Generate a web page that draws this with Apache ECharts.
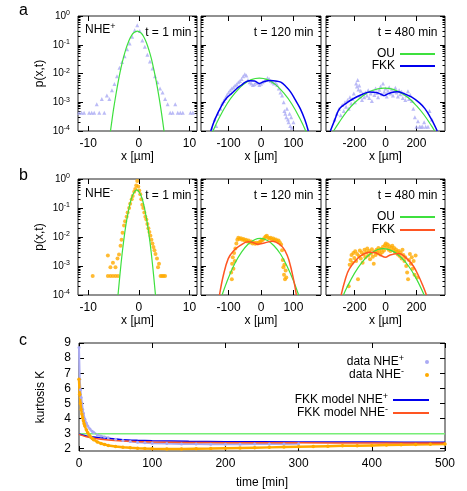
<!DOCTYPE html>
<html>
<head>
<meta charset="utf-8">
<script src="https://cdn.jsdelivr.net/npm/echarts@6/dist/echarts.min.js"></script>
<style>
  html, body { margin: 0; padding: 0; background: #fff; }
  #chart { width: 467px; height: 491px; }
</style>
</head>
<body>
<div id="chart"></div>
<script>
// ---- tick labels ----
const logTicks = [1e-4, 1e-3, 1e-2, 1e-1, 1];
const xTicksT1 = [-10, 0, 10];
const xTicksT120 = [-100, 0, 100];
const xTicksT480 = [-200, 0, 200];
const timeTicks = [0, 100, 200, 300, 400, 500];
const kurtTicks = [2, 3, 4, 5, 6, 7, 8, 9];

// ---- panel a: NHE+ ----
const plusT1 = [[-11.8,4.3e-4],[-11.3,4.3e-4],[-10.8,4.3e-4],[-9.8,4.3e-4],[-9.3,4.3e-4],[-8.8,4.3e-4],
  [-8.3,8.6e-4],[-7.8,4.3e-4],[-7.3,1.3e-3],[-6.8,4.3e-4],[-6.3,1.7e-3],[-5.8,1.3e-3],[-5.3,2.6e-3],
  [-4.8,4.3e-3],[-4.3,8e-3],[-3.8,0.016],[-3.3,0.025],[-2.8,0.04],[-2.3,0.07],[-1.8,0.11],[-1.3,0.19],
  [-0.8,0.32],[-0.3,0.48],[0.2,0.3],[0.7,0.14],[1.2,0.085],[1.7,0.045],[2.2,0.026],[2.7,0.015],
  [3.2,8e-3],[3.7,5e-3],[4.2,3e-3],[4.7,2.2e-3],[5.2,1.3e-3],[5.7,8.6e-4],[6.2,4.3e-4],[6.7,4.3e-4],
  [7.2,8.6e-4],[7.7,4.3e-4],[8.2,4.3e-4],[8.7,4.3e-4],[10.2,4.3e-4],[10.7,4.3e-4]];
const ouPlusT1 = [[-5.6,9.5e-5],[-5.3,2.3e-4],[-5,5.4e-4],[-4.5,1.9e-3],[-4,5.9e-3],[-3.5,0.016],[-3,0.037],
  [-2.5,0.075],[-2,0.13],[-1.5,0.2],[-1,0.26],[-0.3,0.3],[0.5,0.25],[1,0.186],[1.5,0.12],[2,0.066],
  [2.5,0.032],[3,0.013],[3.5,4.8e-3],[4,1.5e-3],[4.5,4.1e-4],[5,9.5e-5]];

const plusT120 = [[-150,1.2e-4],[-143,2.5e-4],[-138,1.5e-4],[-132,4e-4],[-125,6e-4],[-120,9e-4],[-115,1.1e-3],
  [-110,1.4e-3],[-105,1.8e-3],[-100,2.2e-3],[-95,2.6e-3],[-90,3e-3],[-85,3.3e-3],[-80,3.8e-3],[-75,4.2e-3],
  [-70,5e-3],[-65,5.5e-3],[-60,6.5e-3],[-55,8e-3],[-50,9.5e-3],[-45,8.5e-3],[-40,6e-3],[-35,5e-3],
  [-30,4.5e-3],[-25,4e-3],[-20,4.2e-3],[-15,5e-3],[-10,4.6e-3],[-5,4e-3],[0,4.4e-3],[5,5e-3],[10,5.5e-3],
  [15,6e-3],[20,7e-3],[25,6.5e-3],[30,5.5e-3],[35,5e-3],[40,4.5e-3],[45,4.8e-3],[50,4e-3],[55,3e-3],
  [60,2.2e-3],[65,1.7e-3],[70,1e-3],[72,5e-4],[75,4e-4],[78,3e-4],[80,6e-4],[83,2.5e-4],[85,2e-4],
  [88,4e-4],[90,1.5e-4],[93,3e-4],[95,1.3e-4],[100,2e-4]];
const ouPlusT120 = [[-150,8.9e-5],[-130,2.7e-4],[-105,8.7e-4],[-80,2.1e-3],[-55,4.1e-3],[-30,6.1e-3],[-5,6.9e-3],
  [20,6.1e-3],[45,4.1e-3],[70,2.1e-3],[95,8.7e-4],[120,2.7e-4],[140,8.9e-5]];
const fkkPlusT120 = [[-155,1e-4],[-141,2.7e-4],[-121,7.8e-4],[-106,1.4e-3],[-91,2e-3],[-76,2.9e-3],[-61,3.9e-3],
  [-48,5e-3],[-35,5.6e-3],[-20,5.5e-3],[-5,4.5e-3],[10,5.3e-3],[30,5.7e-3],[45,5.5e-3],[61,5e-3],
  [76,3.6e-3],[91,2.3e-3],[106,1.2e-3],[121,6e-4],[135,2.5e-4],[146,1e-4]];

const plusT480 = [[-330,2.5e-4],[-315,4e-4],[-300,6e-4],[-290,3.5e-4],[-280,8e-4],[-270,5e-4],[-262,1e-3],
  [-255,7e-4],[-245,1.2e-3],[-238,6e-4],[-230,1.5e-3],[-222,9e-4],[-215,1.3e-3],[-205,2e-3],[-198,1e-3],
  [-190,4.5e-3],[-185,3.5e-3],[-180,6e-3],[-175,2.8e-3],[-170,3.8e-3],[-165,1.6e-3],[-160,2.5e-3],
  [-152,1.2e-3],[-145,2e-3],[-138,1.5e-3],[-130,2.2e-3],[-120,1.7e-3],[-112,2.6e-3],[-105,1.4e-3],
  [-96,2e-3],[-88,1.1e-3],[-80,2.4e-3],[-72,1.8e-3],[-64,3e-3],[-56,2.1e-3],[-48,1.5e-3],[-40,2.7e-3],
  [-32,3.5e-3],[-24,1.9e-3],[-16,4.5e-3],[-8,2.3e-3],[0,3e-3],[8,1.6e-3],[16,2.5e-3],[24,3.3e-3],
  [32,2e-3],[40,2.8e-3],[48,1.7e-3],[56,2.4e-3],[64,3.2e-3],[72,2.2e-3],[80,1.6e-3],[88,2.6e-3],
  [96,1.9e-3],[104,2.3e-3],[112,1.4e-3],[120,2e-3],[128,1.2e-3],[136,1.7e-3],[145,2.4e-3],[152,1.3e-3],
  [160,1.8e-3],[170,1.1e-3],[180,6e-4],[190,3e-4],[200,1.4e-4],[210,2.2e-4],[220,1.4e-4],[230,1.4e-4],
  [240,1.4e-4],[250,2e-4],[260,1.4e-4],[275,1.4e-4],[285,5e-4],[300,2.5e-4]];
const ouPlusT480 = [[-336,1e-4],[-300,2e-4],[-250,4.8e-4],[-200,9.6e-4],[-150,1.6e-3],[-100,2.4e-3],[-50,2.9e-3],
  [-9,3.1e-3],[50,2.8e-3],[100,2.1e-3],[150,1.4e-3],[200,7.6e-4],[250,3.6e-4],[300,1.45e-4],[318,1e-4]];
const fkkPlusT480 = [[-357,1e-4],[-330,2.3e-4],[-297,6e-4],[-250,9.5e-4],[-212,1.3e-3],[-149,1.9e-3],[-100,2.25e-3],
  [-60,2.2e-3],[-20,1.8e-3],[-9,1.7e-3],[10,1.9e-3],[40,2.2e-3],[74,2.3e-3],[120,2e-3],[170,1.5e-3],
  [220,9.5e-4],[255,6e-4],[290,3e-4],[308,2e-4],[335,1e-4]];

// ---- panel b: NHE- ----
const minusT1 = [[-9.1,4.5e-4],[-6.1,4.5e-4],[-6.1,2.3e-3],[-5.6,4.5e-4],[-5.6,9e-4],[-5.1,4.5e-4],[-5.1,1.3e-3],
  [-4.6,4.5e-4],[-4.6,9e-4],[-4.2,1.8e-3],[-4.1,4.5e-4],[-3.9,2.5e-3],[-3.6,5e-3],[-3.4,8e-3],[-3.2,0.014],
  [-2.9,0.025],[-2.7,0.035],[-2.4,0.05],[-2.2,0.07],[-1.9,0.1],[-1.7,0.14],[-1.4,0.2],[-1.2,0.26],
  [-0.9,0.36],[-0.7,0.45],[-0.5,0.6],[-0.3,0.85],[-0.1,0.55],[0.1,0.4],[0.3,0.3],[0.5,0.2],[0.7,0.13],
  [0.9,0.1],[1.1,0.07],[1.3,0.05],[1.5,0.04],[1.7,0.028],[1.9,0.02],[2.1,0.015],[2.3,0.011],[2.5,8e-3],
  [2.7,6e-3],[2.9,4.5e-3],[3.1,3.5e-3],[3.3,2.6e-3],[3.6,1.8e-3],[3.8,9e-4],[4.0,1.2e-3],[4.3,4.5e-4],
  [4.6,4.5e-4],[4.9,4.5e-4],[5.2,4.5e-4]];
const ouMinusT1 = [[-4.1,1e-4],[-3.5,1.2e-3],[-3,6.9e-3],[-2.5,0.029],[-2,0.087],[-1.5,0.2],[-1,0.33],[-0.4,0.42],
  [0.2,0.33],[0.7,0.2],[1.2,0.087],[1.7,0.029],[2.2,6.9e-3],[2.7,1.2e-3],[3.3,1e-4]];

const minusT120 = [[-92,6e-4],[-90,3.5e-4],[-89,1.2e-3],[-87,2e-3],[-85,8e-4],[-83,2.8e-3],[-81,1.5e-3],[-79,4e-3],
  [-76,6e-3],[-73,8e-3],[-70,9.5e-3],[-66,8.5e-3],[-62,9e-3],[-58,8e-3],[-54,8.5e-3],[-50,7.5e-3],[-46,8e-3],
  [-42,7e-3],[-38,7.5e-3],[-34,6.5e-3],[-30,7e-3],[-26,6e-3],[-22,6.5e-3],[-18,5.8e-3],[-14,6.3e-3],
  [-10,6e-3],[-6,6.5e-3],[-2,7e-3],[2,7.5e-3],[6,8e-3],[10,9e-3],[14,1.05e-2],[18,1.1e-2],[22,9.5e-3],
  [26,8.8e-3],[30,9.5e-3],[34,8.2e-3],[38,8.8e-3],[42,7.8e-3],[46,8.2e-3],[50,7.2e-3],[54,7.6e-3],
  [58,6.5e-3],[62,5.5e-3],[65,3.5e-3],[67,1.6e-3],[69,9e-4],[71,5e-4],[72,1.1e-3],[74,3.5e-4],[76,7e-4],[78,4e-4]];
const ouMinusT120 = [[-120,1e-4],[-100,4e-4],[-80,1.26e-3],[-60,3e-3],[-40,5.6e-3],[-20,8e-3],[-2,8.9e-3],
  [20,7.6e-3],[40,5e-3],[60,2.6e-3],[80,1e-3],[100,3.1e-4],[116,1e-4]];
const fkkMinusT120 = [[-128,1e-4],[-116,4.8e-4],[-101,1.8e-3],[-85,3.3e-3],[-65,5e-3],[-40,6.8e-3],[-25,6.5e-3],
  [-10,5.6e-3],[10,6.2e-3],[35,7.2e-3],[61,5.2e-3],[75,3.2e-3],[86,1.6e-3],[101,3.2e-4],[109,1e-4]];

const minusT480 = [[-238,2e-4],[-232,1.1e-3],[-226,1.6e-3],[-220,2.4e-3],[-214,1.3e-3],[-208,2.8e-3],[-202,1.9e-3],
  [-196,3.2e-3],[-190,1.5e-3],[-184,2.6e-3],[-178,3.5e-4],[-172,2.2e-3],[-166,3.4e-3],[-160,1.8e-3],
  [-154,2.9e-3],[-148,1.3e-3],[-142,2.5e-3],[-136,3.6e-3],[-130,2e-3],[-124,3e-3],[-118,4e-3],[-112,2.3e-3],
  [-106,3.3e-3],[-100,1.7e-3],[-94,2.7e-3],[-88,3.8e-3],[-82,2.1e-3],[-76,1.2e-3],[-70,3.1e-3],[-64,2.4e-3],
  [-58,3.6e-3],[-52,2.8e-3],[-46,4.2e-3],[-40,3.2e-3],[-34,2.5e-3],[-28,3.9e-3],[-22,3e-3],[-16,4.6e-3],
  [-10,3.4e-3],[-4,5.2e-3],[2,6e-3],[8,4.4e-3],[14,5.5e-3],[20,3.6e-3],[26,4.8e-3],[32,3.3e-3],[38,4.3e-3],
  [44,5e-3],[50,3.5e-3],[56,4.2e-3],[62,2.9e-3],[68,3.7e-3],[74,3.1e-3],[80,2.5e-3],[86,3.3e-3],[92,2.2e-3],
  [98,2.9e-3],[104,1.8e-3],[110,3.6e-3],[116,2.4e-3],[122,1.5e-3],[128,2e-3],[134,1e-3],[140,6e-4],
  [146,3.5e-4],[152,1.6e-3],[158,2.6e-3],[164,1.2e-3],[170,2e-3],[176,8e-4],[182,1.5e-3],[188,5e-4],
  [195,2.3e-3],[205,4e-4]];
const ouMinusT480 = [[-272,1e-4],[-250,1.8e-4],[-200,5.7e-4],[-150,1.4e-3],[-100,2.6e-3],[-50,3.7e-3],[-11,4e-3],
  [50,3.2e-3],[100,2e-3],[150,9.8e-4],[200,3.6e-4],[250,1e-4]];
const fkkMinusT480 = [[-287,1e-4],[-260,3.5e-4],[-234,8e-4],[-181,1.8e-3],[-140,2.6e-3],[-106,3e-3],[-70,2.9e-3],
  [-30,2.3e-3],[0,2e-3],[30,2.4e-3],[85,2.7e-3],[148,1.6e-3],[180,1e-3],[212,4.8e-4],[240,2.2e-4],[265,1e-4]];

// ---- panel c: kurtosis vs time ----
const kurtPlusData = [[0,8.7],[1,6.6],[2,5.9],[3,5.4],[4,5.0],[5,4.6],[6,4.35],[8,3.95],[10,3.7],[12,3.5],
  [15,3.3],[18,3.15],[20,3.07],[25,2.93],[30,2.85],[35,2.78],[40,2.72],[50,2.62],[60,2.54],[70,2.48],
  [80,2.43],[90,2.4],[100,2.37],[120,2.34],[140,2.32],[160,2.31],[180,2.3],[200,2.3],[220,2.3],[240,2.31],
  [260,2.31],[280,2.32],[300,2.33]];
const kurtMinusData = [[0,6.6],[1,5.6],[2,5.0],[3,4.6],[4,4.3],[5,4.05],[6,3.85],[7,3.65],[8,3.5],[10,3.25],
  [12,3.05],[14,2.9],[16,2.78],[18,2.68],[20,2.6],[25,2.45],[30,2.35],[35,2.28],[40,2.22],[50,2.15],
  [60,2.1],[70,2.06],[80,2.03],[90,2.01],[100,2.0],[120,1.99],[140,1.99],[160,2.0],[180,2.01],[200,2.03],
  [220,2.05],[240,2.07],[260,2.09],[280,2.11],[300,2.13],[320,2.15],[340,2.17],[360,2.19],[380,2.2],
  [400,2.22],[420,2.24],[440,2.26],[460,2.28],[480,2.3],[500,2.32]];
const kurtOU = [[0,3],[500,3]];
const kurtFkkPlus = [[0,2.97],[10,2.85],[20,2.77],[40,2.67],[60,2.6],[80,2.56],[100,2.53],[150,2.49],
  [200,2.47],[300,2.45],[400,2.44],[500,2.43]];
const kurtFkkMinus = [[0,2.95],[10,2.8],[20,2.7],[40,2.58],[60,2.51],[80,2.47],[100,2.45],[150,2.42],
  [200,2.4],[300,2.39],[400,2.38],[500,2.38]];

// ---- layout / style ----
const FONT = 'Liberation Sans';
const GREEN = '#3ee03e', BLUE = '#0000ee', RED = '#ff5522', LAV = '#aaaaf4', ORANGE = '#ffaa00';
const rowTop = [16, 179], rowH = [115, 116];
const colLeft = [78, 201, 326], colW = [119, 120, 119];
const xRange = [[-12, 11.5], [-185, 185], [-385, 385]];
const xTickSets = [xTicksT1, xTicksT120, xTicksT480];
const logMinor = [];
[1e-4, 1e-3, 1e-2, 1e-1].forEach(d => { for (let k = 2; k <= 9; k++) logMinor.push(d * k); });

const supRich = { e: { fontSize: 7, lineHeight: 4, verticalAlign: 'top', fontFamily: FONT, color: '#000' } };
const textRich = { s: { fontSize: 9, lineHeight: 6, verticalAlign: 'top', fontFamily: FONT, color: '#000' } };
const noLine = { show: false, onZero: false };

function xAxis(g, range, ticks, pos, name) {
  const main = pos === 'bottom';
  return {
    type: 'value', gridIndex: g, position: pos, min: range[0], max: range[1],
    axisLine: noLine, splitLine: { show: false },
    axisTick: { inside: true, length: 5, customValues: ticks, lineStyle: { color: '#000' } },
    axisLabel: { show: main, customValues: ticks, margin: 7, fontSize: 12, fontFamily: FONT, color: '#000' },
    name: main ? name : '', nameLocation: 'middle', nameGap: g === 6 ? 26 : 17,
    nameTextStyle: { fontSize: 12, fontFamily: FONT, color: '#000' }
  };
}

function logAxis(g, pos, ticks, len, labels, name) {
  return {
    type: 'log', logBase: 10, gridIndex: g, position: pos, min: 1e-4, max: 1,
    axisLine: noLine, splitLine: { show: false }, minorTick: { show: false },
    axisTick: { inside: true, length: len, customValues: ticks, lineStyle: { color: '#000' } },
    axisLabel: {
      show: labels, customValues: logTicks, margin: 8, fontSize: 10, lineHeight: 12,
      fontFamily: FONT, color: '#000', rich: supRich,
      formatter: v => '10{e|' + Math.round(Math.log10(v)) + '}'
    },
    name: name || '', nameLocation: 'middle', nameGap: 32,
    nameTextStyle: { fontSize: 12, fontFamily: FONT, color: '#000' }
  };
}

const grids = [], xAxes = [], yAxes = [], series = [];
const panelData = [
  [plusT1, [ouPlusT1], []], [plusT120, [ouPlusT120], [fkkPlusT120]], [plusT480, [ouPlusT480], [fkkPlusT480]],
  [minusT1, [ouMinusT1], []], [minusT120, [ouMinusT120], [fkkMinusT120]], [minusT480, [ouMinusT480], [fkkMinusT480]]
];

for (let r = 0; r < 2; r++) {
  for (let c = 0; c < 3; c++) {
    const g = grids.length;
    grids.push({ left: colLeft[c], top: rowTop[r], width: colW[c], height: rowH[r], show: true,
      borderColor: '#222', borderWidth: 1, backgroundColor: 'transparent', outerBoundsMode: 'none' });
    xAxes.push(xAxis(g, xRange[c], xTickSets[c], 'bottom', 'x [µm]'));
    xAxes.push(xAxis(g, xRange[c], xTickSets[c], 'top'));
    yAxes.push(logAxis(g, 'left', logTicks, 5, c === 0, c === 0 ? 'p(x,t)' : ''));
    yAxes.push(logAxis(g, 'right', logTicks, 5, false));
    yAxes.push(logAxis(g, 'left', logMinor, 2.5, false));
    yAxes.push(logAxis(g, 'right', logMinor, 2.5, false));

    const [pts, ou, fkk] = panelData[g];
    series.push({
      type: 'scatter', xAxisIndex: 2 * g, yAxisIndex: 4 * g, data: pts,
      symbol: r === 0 ? 'triangle' : 'circle', symbolSize: 4,
      itemStyle: { color: r === 0 ? LAV : ORANGE }, silent: true
    });
    ou.forEach(d => series.push({
      name: r === 0 ? 'ouA' : 'ouB', type: 'line', xAxisIndex: 2 * g, yAxisIndex: 4 * g, data: d,
      smooth: 0.4, symbol: 'none', lineStyle: { color: GREEN, width: 1.2 }, itemStyle: { color: GREEN }
    }));
    fkk.forEach(d => series.push({
      name: r === 0 ? 'fkkA' : 'fkkB', type: 'line', xAxisIndex: 2 * g, yAxisIndex: 4 * g, data: d,
      smooth: 0.4, symbol: 'none', lineStyle: { color: r === 0 ? BLUE : RED, width: 1.5 },
      itemStyle: { color: r === 0 ? BLUE : RED }
    }));
  }
}

// panel c
grids.push({ left: 79, top: 343, width: 366, height: 108, show: true, borderColor: '#222',
  borderWidth: 1, backgroundColor: 'transparent', outerBoundsMode: 'none' });
xAxes.push(xAxis(6, [0, 500], timeTicks, 'bottom', 'time [min]'));
xAxes.push(xAxis(6, [0, 500], timeTicks, 'top'));
const kAxis = pos => ({
  type: 'value', gridIndex: 6, position: pos, min: 1.85, max: 9,
  axisLine: noLine, splitLine: { show: false },
  axisTick: { inside: true, length: 5, customValues: kurtTicks, lineStyle: { color: '#000' } },
  axisLabel: { show: pos === 'left', customValues: kurtTicks, margin: 8, fontSize: 12, fontFamily: FONT, color: '#000' },
  name: pos === 'left' ? 'kurtosis K' : '', nameLocation: 'middle', nameGap: 32,
  nameTextStyle: { fontSize: 12, fontFamily: FONT, color: '#000' }
});
yAxes.push(kAxis('left'), kAxis('right'));
const cx = 12, cy = 24;
series.push(
  { name: 'dataPlus', type: 'line', xAxisIndex: cx, yAxisIndex: cy, data: kurtPlusData, symbol: 'circle',
    symbolSize: 3, lineStyle: { color: LAV, width: 2 }, itemStyle: { color: LAV } },
  { name: 'dataMinus', type: 'line', xAxisIndex: cx, yAxisIndex: cy, data: kurtMinusData, symbol: 'circle',
    symbolSize: 3.5, lineStyle: { color: ORANGE, width: 2.5 }, itemStyle: { color: ORANGE } },
  { name: 'ouK', type: 'line', xAxisIndex: cx, yAxisIndex: cy, data: kurtOU, symbol: 'none',
    lineStyle: { color: '#77ee77', width: 1.5 } },
  { name: 'fkkPlusK', type: 'line', xAxisIndex: cx, yAxisIndex: cy, data: kurtFkkPlus, smooth: 0.3,
    symbol: 'none', lineStyle: { color: BLUE, width: 1.5 }, itemStyle: { color: BLUE } },
  { name: 'fkkMinusK', type: 'line', xAxisIndex: cx, yAxisIndex: cy, data: kurtFkkMinus, smooth: 0.3,
    symbol: 'none', lineStyle: { color: RED, width: 1.5 }, itemStyle: { color: RED } }
);

const legendText = { ouA: 'OU', fkkA: 'FKK', ouB: 'OU', fkkB: 'FKK',
  dataPlus: 'data NHE{s|+}', dataMinus: 'data NHE{s|-}',
  fkkPlusK: 'FKK model NHE{s|+}', fkkMinusK: 'FKK model NHE{s|-}' };
const legendBase = {
  orient: 'vertical', align: 'right', selectedMode: false, padding: 0,
  itemWidth: 35, itemHeight: 2, itemGap: 0,
  formatter: n => legendText[n],
  textStyle: { fontSize: 12, lineHeight: 16, fontFamily: FONT, color: '#000', rich: textRich }
};
const lineItem = n => ({ name: n, icon: 'rect' });
const legends = [
  Object.assign({}, legendBase, { data: [lineItem('ouA'), lineItem('fkkA')], right: 32, top: 46, itemGap: -4 }),
  Object.assign({}, legendBase, { data: [lineItem('ouB'), lineItem('fkkB')], right: 32, top: 209, itemGap: -3 }),
  Object.assign({}, legendBase, { data: [{ name: 'dataPlus', icon: 'circle' }, { name: 'dataMinus', icon: 'circle' }],
    right: 38, top: 354, itemWidth: 36, itemHeight: 4, itemGap: -3 }),
  Object.assign({}, legendBase, { data: [lineItem('fkkPlusK'), lineItem('fkkMinusK')], right: 38, top: 392,
    itemWidth: 36, itemGap: -3 })
];

const txt = (text, x, y, align, size) => ({
  type: 'text', x: x, y: y, silent: true,
  style: { text: text, fontSize: size || 12, fontFamily: FONT, fill: '#000', align: align || 'left',
    verticalAlign: 'middle', lineHeight: 16, rich: textRich }
});
const graphics = [
  txt('a', 19, 11, 'left', 16), txt('b', 19, 176, 'left', 16), txt('c', 19, 341, 'left', 16),
  txt('NHE{s|+}', 85, 30), txt('NHE{s|-}', 85, 194),
  txt('t = 1 min', 191.5, 33, 'right'), txt('t = 120 min', 313.5, 33, 'right'), txt('t = 480 min', 437.5, 33, 'right'),
  txt('t = 1 min', 191.5, 196, 'right'), txt('t = 120 min', 313.5, 196, 'right'), txt('t = 480 min', 437.5, 196, 'right')
];

const chart = echarts.init(document.getElementById('chart'), null, { renderer: 'canvas' });
chart.setOption({
  animation: false,
  backgroundColor: '#fff',
  grid: grids, xAxis: xAxes, yAxis: yAxes,
  legend: legends,
  graphic: graphics,
  series: series
});
</script>
</body>
</html>
